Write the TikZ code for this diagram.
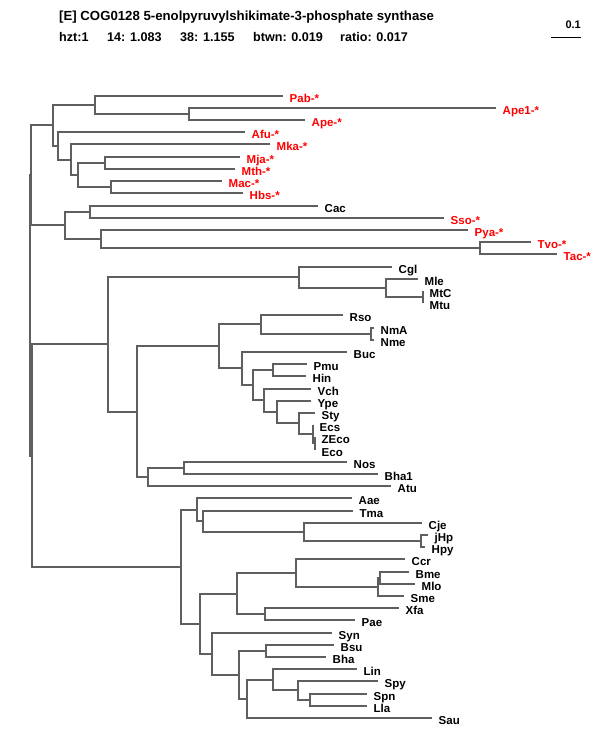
\documentclass[tikz,border=0pt]{standalone}
\usepackage{fontspec}
\setmainfont{Liberation Sans}
\definecolor{brgray}{RGB}{95,95,95}
\definecolor{labred}{RGB}{255,0,0}
\begin{document}
\begin{tikzpicture}[x=1pt,y=-1pt,
  br/.style={draw=brgray, line width=1.6pt},
  lf/.style={anchor=west, inner xsep=6.5pt, inner ysep=0pt, text height=12pt, text depth=0pt, font=\bfseries\fontsize{11.5}{12}\selectfont},
  archlab/.style={lf, text=labred},
  baclab/.style={lf, text=black},
  hdr/.style={anchor=base west, inner sep=0pt, font=\bfseries\fontsize{13.2}{14}\selectfont},
  hdrb/.style={anchor=base west, inner sep=0pt, font=\bfseries\fontsize{12.6}{14}\selectfont}]
\useasboundingbox (0,0) rectangle (600,750);
% header
\node[hdr] (title) at (59,20) {[E] COG0128 5-enolpyruvylshikimate-3-phosphate synthase};
\node[hdrb] (h1) at (59,41) {hzt:1};
\node[hdrb] (h2) at (107,41) {14: 1.083};
\node[hdrb] (h3) at (180,41) {38: 1.155};
\node[hdrb] (h4) at (253,41) {btwn: 0.019};
\node[hdrb] (h5) at (340,41) {ratio: 0.017};
\coordinate (sb1) at (551,37);
\coordinate (sb2) at (581,37);
\draw[black, line width=1pt] (sb1) -- (sb2);
\node[anchor=base east, inner sep=0pt, font=\bfseries\fontsize{11}{12}\selectfont] (sbl) at (581,28) {0.1};
% leaves
\node[archlab] (Pab) at (283,96) {Pab-*};
\node[archlab] (Ape1) at (496,108) {Ape1-*};
\node[archlab] (Ape) at (305,120) {Ape-*};
\node[archlab] (Afu) at (245,132) {Afu-*};
\node[archlab] (Mka) at (270,144) {Mka-*};
\node[archlab] (Mja) at (240,157) {Mja-*};
\node[archlab] (Mth) at (235,169) {Mth-*};
\node[archlab] (Mac) at (222,181) {Mac-*};
\node[archlab] (Hbs) at (243,193) {Hbs-*};
\node[baclab] (Cac) at (318,206) {Cac};
\node[archlab] (Sso) at (444,218) {Sso-*};
\node[archlab] (Pya) at (468,230) {Pya-*};
\node[archlab] (Tvo) at (531,242) {Tvo-*};
\node[archlab] (Tac) at (557,254) {Tac-*};
\node[baclab] (Cgl) at (392,267) {Cgl};
\node[baclab] (Mle) at (418,279) {Mle};
\node[baclab] (MtC) at (423,291) {MtC};
\node[baclab] (Mtu) at (423,303) {Mtu};
\node[baclab] (Rso) at (343,315) {Rso};
\node[baclab] (NmA) at (374,328) {NmA};
\node[baclab] (Nme) at (374,340) {Nme};
\node[baclab] (Buc) at (347,352) {Buc};
\node[baclab] (Pmu) at (307,364) {Pmu};
\node[baclab] (Hin) at (306,376) {Hin};
\node[baclab] (Vch) at (311,389) {Vch};
\node[baclab] (Ype) at (311,401) {Ype};
\node[baclab] (Sty) at (315,413) {Sty};
\node[baclab] (Ecs) at (313,425) {Ecs};
\node[baclab] (ZEco) at (315,437) {ZEco};
\node[baclab] (Eco) at (315,450) {Eco};
\node[baclab] (Nos) at (347,462) {Nos};
\node[baclab] (Bha1) at (378,474) {Bha1};
\node[baclab] (Atu) at (391,486) {Atu};
\node[baclab] (Aae) at (352,498) {Aae};
\node[baclab] (Tma) at (353,511) {Tma};
\node[baclab] (Cje) at (422,523) {Cje};
\node[baclab] (jHp) at (428,535) {jHp};
\node[baclab] (Hpy) at (425,547) {Hpy};
\node[baclab] (Ccr) at (405,559) {Ccr};
\node[baclab] (Bme) at (409,572) {Bme};
\node[baclab] (Mlo) at (415,584) {Mlo};
\node[baclab] (Sme) at (404,596) {Sme};
\node[baclab] (Xfa) at (399,608) {Xfa};
\node[baclab] (Pae) at (355,620) {Pae};
\node[baclab] (Syn) at (332,633) {Syn};
\node[baclab] (Bsu) at (334,645) {Bsu};
\node[baclab] (Bha) at (326,657) {Bha};
\node[baclab] (Lin) at (357,669) {Lin};
\node[baclab] (Spy) at (378,681) {Spy};
\node[baclab] (Spn) at (367,694) {Spn};
\node[baclab] (Lla) at (367,706) {Lla};
\node[baclab] (Sau) at (432,718) {Sau};
% internal nodes
\coordinate (R) at (30,315);
\coordinate (A) at (31,175);
\coordinate (B) at (32,456);
\coordinate (n2) at (53,125);
\coordinate (n3) at (95,105);
\coordinate (n4) at (189,114);
\coordinate (n5) at (58,146);
\coordinate (n6) at (71,160);
\coordinate (n7) at (78,175);
\coordinate (n8) at (105,163);
\coordinate (n9) at (111,187);
\coordinate (n10) at (65,225);
\coordinate (n11) at (90,212);
\coordinate (n12) at (101,239);
\coordinate (n13) at (480,248);
\coordinate (n14) at (108,344);
\coordinate (n15) at (299,277);
\coordinate (n17) at (386,288);
\coordinate (n18) at (423,297);
\coordinate (n16) at (137,412);
\coordinate (n19) at (219,346);
\coordinate (n21) at (261,324);
\coordinate (n23) at (371,334);
\coordinate (n22) at (242,368);
\coordinate (n24) at (253,385);
\coordinate (n25) at (273,370);
\coordinate (n26) at (264,400);
\coordinate (n27) at (277,412);
\coordinate (n28) at (299,423);
\coordinate (n29) at (313,434);
\coordinate (n30) at (315,443);
\coordinate (n20) at (148,477);
\coordinate (n31) at (184,468);
\coordinate (n32) at (181,567);
\coordinate (n33) at (197,510);
\coordinate (n35) at (203,521);
\coordinate (n36) at (304,532);
\coordinate (n37) at (421,541);
\coordinate (n34) at (200,624);
\coordinate (n38) at (237,594);
\coordinate (n40) at (296,573);
\coordinate (n42) at (378,587);
\coordinate (n43) at (380,578);
\coordinate (n41) at (265,614);
\coordinate (n39) at (212,654);
\coordinate (n44) at (239,675);
\coordinate (n45) at (266,651);
\coordinate (n46) at (247,699);
\coordinate (n47) at (273,680);
\coordinate (n48) at (298,690);
\coordinate (n49) at (310,700);
% branches
\draw[br] (R) |- (A) (R) |- (B);
\draw[br] (A) |- (n2) (A) |- (n10);
\draw[br] (n2) |- (n3) (n2) |- (n5);
\draw[br] (n3) |- (Pab.west) (n3) |- (n4);
\draw[br] (n4) |- (Ape1.west) (n4) |- (Ape.west);
\draw[br] (n5) |- (Afu.west) (n5) |- (n6);
\draw[br] (n6) |- (Mka.west) (n6) |- (n7);
\draw[br] (n7) |- (n8) (n7) |- (n9);
\draw[br] (n8) |- (Mja.west) (n8) |- (Mth.west);
\draw[br] (n9) |- (Mac.west) (n9) |- (Hbs.west);
\draw[br] (n10) |- (n11) (n10) |- (n12);
\draw[br] (n11) |- (Cac.west) (n11) |- (Sso.west);
\draw[br] (n12) |- (Pya.west) (n12) |- (n13);
\draw[br] (n13) |- (Tvo.west) (n13) |- (Tac.west);
\draw[br] (B) |- (n14) (B) |- (n32);
\draw[br] (n14) |- (n15) (n14) |- (n16);
\draw[br] (n15) |- (Cgl.west) (n15) |- (n17);
\draw[br] (n17) |- (Mle.west) (n17) |- (n18);
\draw[br] (n18) |- (MtC.west) (n18) |- (Mtu.west);
\draw[br] (n16) |- (n19) (n16) |- (n20);
\draw[br] (n19) |- (n21) (n19) |- (n22);
\draw[br] (n21) |- (Rso.west) (n21) |- (n23);
\draw[br] (n23) |- (NmA.west) (n23) |- (Nme.west);
\draw[br] (n22) |- (Buc.west) (n22) |- (n24);
\draw[br] (n24) |- (n25) (n24) |- (n26);
\draw[br] (n25) |- (Pmu.west) (n25) |- (Hin.west);
\draw[br] (n26) |- (Vch.west) (n26) |- (n27);
\draw[br] (n27) |- (Ype.west) (n27) |- (n28);
\draw[br] (n28) |- (Sty.west) (n28) |- (n29);
\draw[br] (n29) |- (Ecs.west) (n29) |- (n30);
\draw[br] (n30) |- (ZEco.west) (n30) |- (Eco.west);
\draw[br] (n20) |- (n31) (n20) |- (Atu.west);
\draw[br] (n31) |- (Nos.west) (n31) |- (Bha1.west);
\draw[br] (n32) |- (n33) (n32) |- (n34);
\draw[br] (n33) |- (Aae.west) (n33) |- (n35);
\draw[br] (n35) |- (Tma.west) (n35) |- (n36);
\draw[br] (n36) |- (Cje.west) (n36) |- (n37);
\draw[br] (n37) |- (jHp.west) (n37) |- (Hpy.west);
\draw[br] (n34) |- (n38) (n34) |- (n39);
\draw[br] (n38) |- (n40) (n38) |- (n41);
\draw[br] (n40) |- (Ccr.west) (n40) |- (n42);
\draw[br] (n42) |- (n43) (n42) |- (Sme.west);
\draw[br] (n43) |- (Bme.west) (n43) |- (Mlo.west);
\draw[br] (n41) |- (Xfa.west) (n41) |- (Pae.west);
\draw[br] (n39) |- (Syn.west) (n39) |- (n44);
\draw[br] (n44) |- (n45) (n44) |- (n46);
\draw[br] (n45) |- (Bsu.west) (n45) |- (Bha.west);
\draw[br] (n46) |- (n47) (n46) |- (Sau.west);
\draw[br] (n47) |- (Lin.west) (n47) |- (n48);
\draw[br] (n48) |- (Spy.west) (n48) |- (n49);
\draw[br] (n49) |- (Spn.west) (n49) |- (Lla.west);
\end{tikzpicture}
\end{document}
